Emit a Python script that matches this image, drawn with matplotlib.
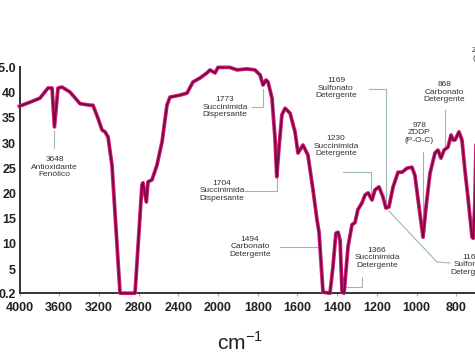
import numpy as np
import matplotlib
matplotlib.use("Agg")
import matplotlib.pyplot as plt
import matplotlib.patheffects as pe

plt.rcParams['font.family'] = ['Liberation Sans', 'DejaVu Sans']
plt.rcParams['mathtext.fontset'] = 'custom'
plt.rcParams['mathtext.rm'] = 'Liberation Sans'

# ---- data -------------------------------------------------------------
wavenumber = [4000, 3894, 3794, 3713, 3672, 3648, 3612, 3572, 3491, 3390, 3290, 3260,
              3209, 3169, 3138, 3108, 3068, 2987, 2836, 2766, 2756, 2722, 2705, 2665,
              2615, 2564, 2514, 2484, 2383, 2312, 2252, 2181, 2111, 2081, 2030, 2000,
              1940, 1904, 1854, 1814, 1788, 1773, 1758, 1748, 1728, 1713, 1704, 1693,
              1678, 1662, 1637, 1612, 1597, 1572, 1547, 1521, 1501, 1491, 1471, 1436,
              1421, 1406, 1395, 1385, 1375, 1365, 1345, 1325, 1310, 1295, 1275, 1259,
              1244, 1224, 1209, 1189, 1169, 1154, 1139, 1118, 1093, 1073, 1048, 1023,
              1008, 992, 967, 952, 932, 907, 892, 877, 861, 841, 826, 816,
              806, 786, 771, 756, 741, 720, 714, 706, 700, 690, 670, 650]
transmittance = [37.3, 38.1, 38.9, 40.9, 40.9, 33.2, 40.9, 41.1, 40.1, 37.8, 37.5, 37.5,
                 34.9, 32.6, 32.2, 31.2, 25.6, 0.2, 0.2, 21.7, 22.1, 18.3, 22.3, 22.7,
                 25.6, 30.2, 37.5, 39.1, 39.5, 39.9, 42.1, 42.9, 43.9, 44.5, 43.9, 45.0,
                 45.0, 44.5, 44.7, 44.5, 43.5, 41.5, 42.5, 42.1, 38.9, 31.0, 23.3, 29.0,
                 35.6, 36.9, 35.9, 32.2, 28.0, 29.6, 27.6, 20.6, 14.7, 12.3, 0.4, 0.2,
                 5.4, 12.1, 12.3, 10.7, 0.4, 0.2, 9.4, 13.8, 14.2, 16.8, 18.1, 19.7,
                 20.1, 18.7, 20.7, 21.3, 19.3, 17.1, 17.3, 21.3, 24.2, 24.2, 25.0, 25.2,
                 23.6, 18.7, 11.3, 17.3, 24.0, 28.0, 28.6, 27.0, 28.6, 29.2, 31.6, 30.6,
                 30.6, 32.2, 30.6, 24.6, 19.3, 11.3, 11.1, 18.0, 30.0, 34.0, 33.0, 32.0]

x_ticks = [4000, 3600, 3200, 2800, 2400, 2000, 1800, 1600, 1400, 1200, 1000, 800]
y_ticks = [0.2, 5, 10, 15, 20, 25, 30, 35, 40, 45]
y_tick_labels = ['0.2', '5', '10', '15', '20', '25', '30', '35', '40', '45.0']

# annotations: text, text position (wn, T), leader path [(wn, T), ...]
annotations = [
    ("3648\nAntioxidante\nFenólico", (3648, 25.2), [(3648, 32.4), (3648, 29.0)]),
    ("1773\nSuccinimida\nDispersante", (1964, 37.1), [(1829, 37.1), (1773, 37.1), (1773, 40.8)]),
    ("1704\nSuccinimida\nDispersante", (1980, 20.5), [(1864, 20.5), (1704, 20.5), (1704, 23.0)]),
    ("1494\nCarbonato\nDetergente", (1839, 9.4), [(1688, 9.4), (1490, 9.4)]),
    ("1366\nSuccinimida\nDetergente", (1199, 7.2), [(1275, 3.4), (1275, 1.4), (1368, 1.4)]),
    ("1230\nSuccinimida\nDetergente", (1406, 29.4), [(1372, 24.2), (1230, 24.2), (1230, 19.3)]),
    ("1169\nSulfonato\nDetergente", (1406, 40.9), [(1239, 40.7), (1154, 40.7), (1154, 18.2)]),
    ("978\nZDDP\n(P-O-C)", (987, 32.0), [(967, 28.2), (967, 11.8)]),
    ("868\nCarbonato\nDetergente", (861, 40.1), [(856, 36.5), (856, 28.6)]),
    ("1169\nSulfonato\nDetergente", (725, 5.8), [(1139, 16.5), (897, 6.4), (831, 6.2)]),
]

# ---- scale: 400 cm-1 per division above 2000, 200 below ---------------
def fwd(w):
    w = np.asarray(w, dtype=float)
    return np.where(w >= 2000, 10 + (w - 2000) / 400.0, w / 200.0)

def inv(p):
    p = np.asarray(p, dtype=float)
    return np.where(p >= 10, 2000 + (p - 10) * 400.0, p * 200.0)

W, H = 475, 362
fig = plt.figure(figsize=(W / 100, H / 100), dpi=100)
left_px, right_px = 19.5, 19.5 + 12 * 39.7
bot_px, top_px = 293.2, 67.4
ax = fig.add_axes([left_px / W, 1 - bot_px / H, (right_px - left_px) / W, (bot_px - top_px) / H])
ax.set_xscale('function', functions=(fwd, inv))
ax.set_xlim(4000, 600)
ax.set_ylim(0.2, 45)

ax.plot(wavenumber, transmittance, color='#700c3a', lw=1.2, clip_on=False, zorder=3,
        path_effects=[pe.Stroke(linewidth=2.7, foreground='#d8187c'), pe.Normal()])

for txt, (tx, ty), path in annotations:
    xs = [p[0] for p in path]
    ys = [p[1] for p in path]
    ax.plot(xs, ys, color='#9fb6b6', lw=0.8, clip_on=False, zorder=2)
    ax.text(tx, ty, txt, ha='center', va='center', fontsize=6, color='#333333',
            linespacing=1.15, clip_on=False)

# partially visible label at top right
ax.text(720, 47.6, "ZDDP\n(P=S)", ha='left', va='center', fontsize=6, color='#333333',
        linespacing=1.15, clip_on=False)

ax.set_xticks(x_ticks)
ax.set_xticklabels([str(t) for t in x_ticks])
ax.minorticks_off()
ax.set_yticks(y_ticks)
ax.set_yticklabels(y_tick_labels)
ax.tick_params(axis='x', length=2, width=0.8, color='#aaaaaa', pad=4, labelsize=9,
               labelcolor='#222222')
ax.tick_params(axis='y', length=0, pad=2.5, labelsize=9, labelcolor='#222222')
for lab in ax.get_xticklabels() + ax.get_yticklabels():
    lab.set_fontweight('bold')

for s in ['top', 'right']:
    ax.spines[s].set_visible(False)
for s in ['left', 'bottom']:
    ax.spines[s].set_color('#333333')
    ax.spines[s].set_linewidth(1.4)

ax.set_xlabel('cm$^{-1}$', fontsize=15, color='#222222')
ax.xaxis.set_label_coords((240 - left_px) / (right_px - left_px), -(331 - bot_px) / (bot_px - top_px))

fig.savefig('out.png', dpi=100)
